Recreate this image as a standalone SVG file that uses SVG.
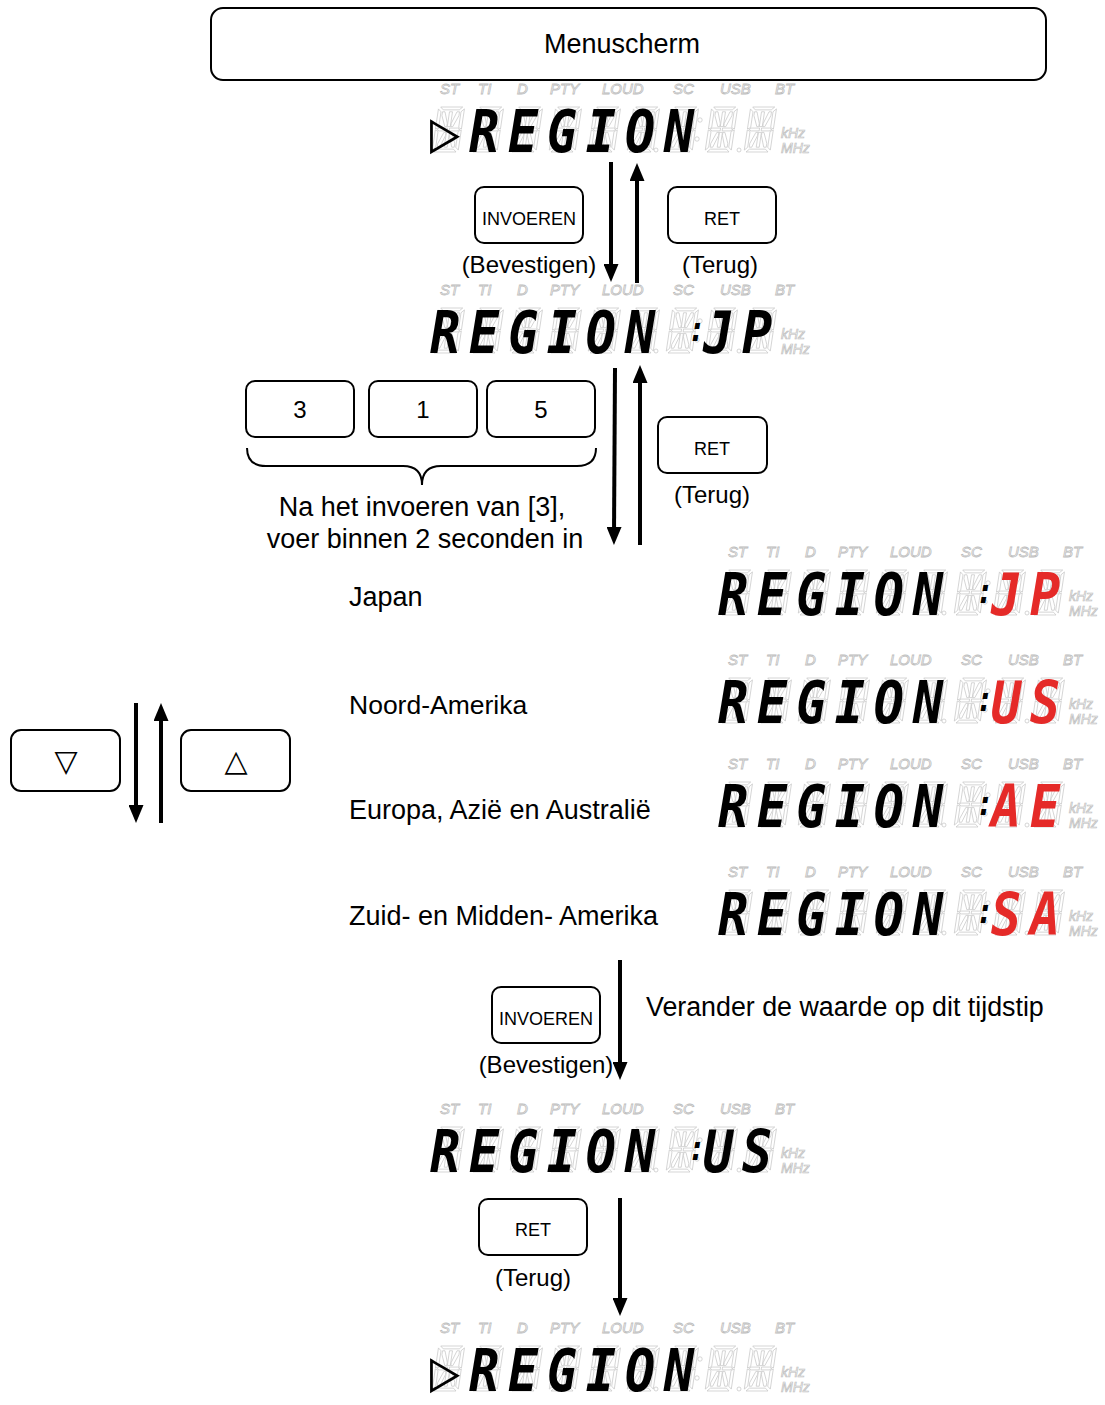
<svg xmlns="http://www.w3.org/2000/svg" xmlns:xlink="http://www.w3.org/1999/xlink" width="1105" height="1405" viewBox="0 0 1105 1405">
<style>
.box{fill:#fff;stroke:#000;stroke-width:2}
.t{font-family:"Liberation Sans",Arial,sans-serif;fill:#000}
.c{text-anchor:middle}
.seg{fill:#fff;stroke:#c4c4c4;stroke-width:0.7}
.ind{font-family:"Liberation Sans",Arial,sans-serif;font-style:italic;font-size:15px;fill:#fff;stroke:#bdbdbd;stroke-width:0.8}
.unit{font-family:"Liberation Sans",Arial,sans-serif;font-style:italic;font-size:14px;fill:#fff;stroke:#bdbdbd;stroke-width:0.7}
.lit{font-family:"DejaVu Sans Mono",monospace;font-weight:bold;font-style:italic;font-size:59px;fill:#000;text-anchor:middle}
.col{font-size:34px}
.red{fill:#e52a28}
.arr{stroke:#000;stroke-width:4;fill:none;marker-end:url(#ah)}
</style>
<defs>
<marker id="ah" markerUnits="userSpaceOnUse" viewBox="0 0 18 15" markerWidth="18" markerHeight="15" refX="8" refY="7.5" orient="auto"><path d="M0,0 L18,7.5 L0,15 z" fill="#000"/></marker>
<g id="cell" transform="skewX(-8.5) translate(0,-45) scale(1,0.9574)">
<polygon class="seg" points="2,0 24,0 21,3 5,3"/>
<polygon class="seg" points="2,47 24,47 21,44 5,44"/>
<polygon class="seg" points="0,2 3,5 3,21.5 0,23"/>
<polygon class="seg" points="0,24 3,25.5 3,42 0,45"/>
<polygon class="seg" points="26,2 23,5 23,21.5 26,23"/>
<polygon class="seg" points="26,24 23,25.5 23,42 26,45"/>
<polygon class="seg" points="1.5,23.5 4,22 12,22 12,25 4,25"/>
<polygon class="seg" points="14,22 22,22 24.5,23.5 22,25 14,25"/>
<polygon class="seg" points="11.5,5 14.5,5 14.5,20.5 11.5,20.5"/>
<polygon class="seg" points="11.5,26.5 14.5,26.5 14.5,42 11.5,42"/>
<polygon class="seg" points="4.5,5 7,5 11,17 11,20.5 9,20.5 4.5,9"/>
<polygon class="seg" points="21.5,5 19,5 15,17 15,20.5 17,20.5 21.5,9"/>
<polygon class="seg" points="11,26.5 11,30 7,42 4.5,42 4.5,38 9,26.5"/>
<polygon class="seg" points="15,26.5 15,30 19,42 21.5,42 21.5,38 17,26.5"/>
</g>
<g id="lcdbase">
<use href="#cell" x="0" y="70"/><use href="#cell" x="39" y="70"/><use href="#cell" x="78" y="70"/>
<use href="#cell" x="117" y="70"/><use href="#cell" x="156" y="70"/><use href="#cell" x="195" y="70"/>
<use href="#cell" x="234" y="70"/><use href="#cell" x="273" y="70"/><use href="#cell" x="312" y="70"/>
<circle class="seg" cx="224" cy="68" r="2"/><circle class="seg" cx="307" cy="68" r="2"/>
<circle class="seg" cx="268" cy="38" r="2.2"/><circle class="seg" cx="265" cy="57" r="2.2"/>
</g>
</defs>
<rect width="1105" height="1405" fill="#fff"/>

<g id="menuscherm"><rect class="box" x="211" y="8" width="835" height="72" rx="12"/><text class="t c" x="622" y="53" font-size="27">Menuscherm</text></g>

<g id="disp-top" transform="translate(432,82)">
<use href="#lcdbase"/>
<text class="ind" y="12"><tspan x="8">ST</tspan><tspan x="46">TI</tspan><tspan x="85">D</tspan><tspan x="118">PTY</tspan><tspan x="170">LOUD</tspan><tspan x="241">SC</tspan><tspan x="288">USB</tspan><tspan x="343">BT</tspan></text>
<text class="unit" x="349" y="56">kHz</text><text class="unit" x="349" y="71">MHz</text>
<text class="lit" transform="translate(0,70) scale(0.85,1)"><tspan x="15.3">▷</tspan><tspan x="61.2">R</tspan><tspan x="107.1">E</tspan><tspan x="152.9">G</tspan><tspan x="198.8">I</tspan><tspan x="244.7">O</tspan><tspan x="290.6">N</tspan></text>
</g>

<g id="btn-invoeren-1"><rect class="box" x="475" y="187" width="108" height="56" rx="9"/><text class="t c" x="529" y="225" font-size="18">INVOEREN</text><text class="t c" x="529" y="273" font-size="24">(Bevestigen)</text></g>
<g id="btn-ret-1"><rect class="box" x="668" y="187" width="108" height="56" rx="9"/><text class="t c" x="722" y="225" font-size="18">RET</text><text class="t c" x="720" y="273" font-size="24">(Terug)</text></g>

<g id="disp-jp" transform="translate(432,283)">
<use href="#lcdbase"/>
<text class="ind" y="12"><tspan x="8">ST</tspan><tspan x="46">TI</tspan><tspan x="85">D</tspan><tspan x="118">PTY</tspan><tspan x="170">LOUD</tspan><tspan x="241">SC</tspan><tspan x="288">USB</tspan><tspan x="343">BT</tspan></text>
<text class="unit" x="349" y="56">kHz</text><text class="unit" x="349" y="71">MHz</text>
<text class="lit" transform="translate(0,70) scale(0.85,1)"><tspan x="15.3">R</tspan><tspan x="61.2">E</tspan><tspan x="107.1">G</tspan><tspan x="152.9">I</tspan><tspan x="198.8">O</tspan><tspan x="244.7">N</tspan><tspan class="col" x="311.8" y="-12">:</tspan><tspan x="336.5" y="0">J</tspan><tspan x="382.4">P</tspan></text>
</g>

<g id="btn-3"><rect class="box" x="246" y="381" width="108" height="56" rx="9"/><text class="t c" x="300" y="418" font-size="24">3</text></g>
<g id="btn-1"><rect class="box" x="369" y="381" width="108" height="56" rx="9"/><text class="t c" x="423" y="418" font-size="24">1</text></g>
<g id="btn-5"><rect class="box" x="487" y="381" width="108" height="56" rx="9"/><text class="t c" x="541" y="418" font-size="24">5</text></g>
<g id="brace"><path d="M247,448 Q247,466 266,466 L403,466 Q422,466 422,485 Q422,466 441,466 L577,466 Q596,466 596,448" fill="none" stroke="#000" stroke-width="2"/></g>
<g id="note-315"><text class="t c" x="422" y="516" font-size="27">Na het invoeren van [3],</text><text class="t c" x="425" y="548" font-size="27">voer binnen 2 seconden in</text></g>
<g id="btn-ret-2"><rect class="box" x="658" y="417" width="109" height="56" rx="9"/><text class="t c" x="712" y="455" font-size="18">RET</text><text class="t c" x="712" y="503" font-size="24">(Terug)</text></g>

<g id="lbl-japan"><text class="t" x="349" y="606" font-size="27">Japan</text></g>
<g id="lbl-na"><text class="t" x="349" y="714" font-size="26.5">Noord-Amerika</text></g>
<g id="lbl-eu"><text class="t" x="349" y="819" font-size="27">Europa, Azië en Australië</text></g>
<g id="lbl-sa"><text class="t" x="349" y="925" font-size="27">Zuid- en Midden- Amerika</text></g>

<g id="disp-r-jp" transform="translate(720,545)">
<use href="#lcdbase"/>
<text class="ind" y="12"><tspan x="8">ST</tspan><tspan x="46">TI</tspan><tspan x="85">D</tspan><tspan x="118">PTY</tspan><tspan x="170">LOUD</tspan><tspan x="241">SC</tspan><tspan x="288">USB</tspan><tspan x="343">BT</tspan></text>
<text class="unit" x="349" y="56">kHz</text><text class="unit" x="349" y="71">MHz</text>
<text class="lit" transform="translate(0,70) scale(0.85,1)"><tspan x="15.3">R</tspan><tspan x="61.2">E</tspan><tspan x="107.1">G</tspan><tspan x="152.9">I</tspan><tspan x="198.8">O</tspan><tspan x="244.7">N</tspan><tspan class="col" x="311.8" y="-12">:</tspan><tspan class="red" x="336.5" y="0">J</tspan><tspan class="red" x="382.4">P</tspan></text>
</g>
<g id="disp-r-us" transform="translate(720,653)">
<use href="#lcdbase"/>
<text class="ind" y="12"><tspan x="8">ST</tspan><tspan x="46">TI</tspan><tspan x="85">D</tspan><tspan x="118">PTY</tspan><tspan x="170">LOUD</tspan><tspan x="241">SC</tspan><tspan x="288">USB</tspan><tspan x="343">BT</tspan></text>
<text class="unit" x="349" y="56">kHz</text><text class="unit" x="349" y="71">MHz</text>
<text class="lit" transform="translate(0,70) scale(0.85,1)"><tspan x="15.3">R</tspan><tspan x="61.2">E</tspan><tspan x="107.1">G</tspan><tspan x="152.9">I</tspan><tspan x="198.8">O</tspan><tspan x="244.7">N</tspan><tspan class="col" x="311.8" y="-12">:</tspan><tspan class="red" x="336.5" y="0">U</tspan><tspan class="red" x="382.4">S</tspan></text>
</g>
<g id="disp-r-ae" transform="translate(720,757)">
<use href="#lcdbase"/>
<text class="ind" y="12"><tspan x="8">ST</tspan><tspan x="46">TI</tspan><tspan x="85">D</tspan><tspan x="118">PTY</tspan><tspan x="170">LOUD</tspan><tspan x="241">SC</tspan><tspan x="288">USB</tspan><tspan x="343">BT</tspan></text>
<text class="unit" x="349" y="56">kHz</text><text class="unit" x="349" y="71">MHz</text>
<text class="lit" transform="translate(0,70) scale(0.85,1)"><tspan x="15.3">R</tspan><tspan x="61.2">E</tspan><tspan x="107.1">G</tspan><tspan x="152.9">I</tspan><tspan x="198.8">O</tspan><tspan x="244.7">N</tspan><tspan class="col" x="311.8" y="-12">:</tspan><tspan class="red" x="336.5" y="0">A</tspan><tspan class="red" x="382.4">E</tspan></text>
</g>
<g id="disp-r-sa" transform="translate(720,865)">
<use href="#lcdbase"/>
<text class="ind" y="12"><tspan x="8">ST</tspan><tspan x="46">TI</tspan><tspan x="85">D</tspan><tspan x="118">PTY</tspan><tspan x="170">LOUD</tspan><tspan x="241">SC</tspan><tspan x="288">USB</tspan><tspan x="343">BT</tspan></text>
<text class="unit" x="349" y="56">kHz</text><text class="unit" x="349" y="71">MHz</text>
<text class="lit" transform="translate(0,70) scale(0.85,1)"><tspan x="15.3">R</tspan><tspan x="61.2">E</tspan><tspan x="107.1">G</tspan><tspan x="152.9">I</tspan><tspan x="198.8">O</tspan><tspan x="244.7">N</tspan><tspan class="col" x="311.8" y="-12">:</tspan><tspan class="red" x="336.5" y="0">S</tspan><tspan class="red" x="382.4">A</tspan></text>
</g>

<g id="btn-down"><rect class="box" x="11" y="730" width="109" height="61" rx="10"/><text class="t c" x="66" y="771" font-size="30" style="font-family:'DejaVu Sans',sans-serif">▽</text></g>
<g id="btn-up"><rect class="box" x="181" y="730" width="109" height="61" rx="10"/><text class="t c" x="236" y="771" font-size="30" style="font-family:'DejaVu Sans',sans-serif">△</text></g>

<g id="btn-invoeren-2"><rect class="box" x="492" y="987" width="108" height="56" rx="9"/><text class="t c" x="546" y="1025" font-size="18">INVOEREN</text><text class="t c" x="546" y="1073" font-size="24">(Bevestigen)</text></g>
<g id="note-change"><text class="t" x="646" y="1016" font-size="26.8">Verander de waarde op dit tijdstip</text></g>

<g id="disp-us" transform="translate(432,1102)">
<use href="#lcdbase"/>
<text class="ind" y="12"><tspan x="8">ST</tspan><tspan x="46">TI</tspan><tspan x="85">D</tspan><tspan x="118">PTY</tspan><tspan x="170">LOUD</tspan><tspan x="241">SC</tspan><tspan x="288">USB</tspan><tspan x="343">BT</tspan></text>
<text class="unit" x="349" y="56">kHz</text><text class="unit" x="349" y="71">MHz</text>
<text class="lit" transform="translate(0,70) scale(0.85,1)"><tspan x="15.3">R</tspan><tspan x="61.2">E</tspan><tspan x="107.1">G</tspan><tspan x="152.9">I</tspan><tspan x="198.8">O</tspan><tspan x="244.7">N</tspan><tspan class="col" x="311.8" y="-12">:</tspan><tspan x="336.5" y="0">U</tspan><tspan x="382.4">S</tspan></text>
</g>

<g id="btn-ret-3"><rect class="box" x="479" y="1199" width="108" height="56" rx="9"/><text class="t c" x="533" y="1236" font-size="18">RET</text><text class="t c" x="533" y="1286" font-size="24">(Terug)</text></g>

<g id="disp-bottom" transform="translate(432,1321)">
<use href="#lcdbase"/>
<text class="ind" y="12"><tspan x="8">ST</tspan><tspan x="46">TI</tspan><tspan x="85">D</tspan><tspan x="118">PTY</tspan><tspan x="170">LOUD</tspan><tspan x="241">SC</tspan><tspan x="288">USB</tspan><tspan x="343">BT</tspan></text>
<text class="unit" x="349" y="56">kHz</text><text class="unit" x="349" y="71">MHz</text>
<text class="lit" transform="translate(0,70) scale(0.85,1)"><tspan x="15.3">▷</tspan><tspan x="61.2">R</tspan><tspan x="107.1">E</tspan><tspan x="152.9">G</tspan><tspan x="198.8">I</tspan><tspan x="244.7">O</tspan><tspan x="290.6">N</tspan></text>
</g>

<g id="connectors">
<line class="arr" x1="611" y1="162" x2="611" y2="272"/>
<line class="arr" x1="637" y1="283" x2="637" y2="173"/>
<line class="arr" x1="615" y1="368" x2="614" y2="535"/>
<line class="arr" x1="640" y1="545" x2="640" y2="375"/>
<line class="arr" x1="136" y1="703" x2="136" y2="813"/>
<line class="arr" x1="161" y1="823" x2="161" y2="713"/>
<line class="arr" x1="620" y1="960" x2="620" y2="1070"/>
<line class="arr" x1="620" y1="1198" x2="620" y2="1306"/>
</g>
</svg>
